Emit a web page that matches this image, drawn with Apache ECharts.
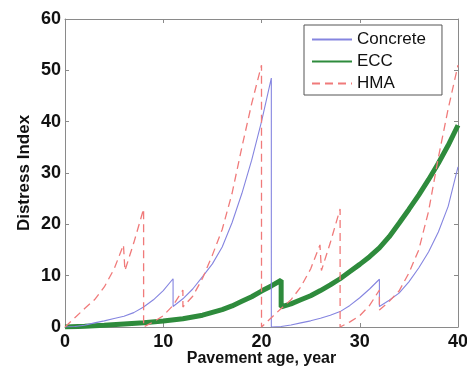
<!DOCTYPE html>
<html>
<head>
<meta charset="utf-8">
<script src="https://cdn.jsdelivr.net/npm/echarts@6/dist/echarts.min.js"></script>
<style>
html,body{margin:0;padding:0;background:#fff;}
#main{width:467px;height:369px;}
</style>
</head>
<body>
<div id="main"></div>
<script>
// Series values as [pavement age (year), distress index]
const concreteData = [[0,0],[1,0.1],[2,0.35],[3,0.8],[4,1.2],[5,1.65],[6,2.1],[7,2.8],[8,3.9],[9,5.3],[10,7.1],[11,9.4],[11,4.0],[12,5.5],[13,7.4],[14,9.8],[15,12.3],[16,15.6],[17,20.3],[18,26],[19,32.5],[20,40],[21,48.5],[21,0],[22,0.1],[23,0.4],[24,0.8],[25,1.2],[26,1.7],[27,2.3],[28,3.0],[29,4.2],[30,5.7],[31,7.4],[32,9.3],[32,4.0],[33,5.2],[34,6.6],[35,8.8],[36,11.5],[37,14.6],[38,18.5],[39,23.5],[40,31.2]];
const eccData = [[0,0],[2,0.15],[4,0.35],[6,0.6],[8,0.85],[10,1.15],[12,1.6],[14,2.3],[16,3.4],[17,4.1],[18,5.0],[19,5.9],[20,7.0],[21,8.0],[22,9.1],[22,3.9],[23,4.5],[24,5.3],[25,6.1],[26,7.1],[27,8.2],[28,9.4],[29,10.8],[30,12.2],[31,13.7],[32,15.4],[33,17.6],[34,20.2],[35,22.9],[36,25.7],[37,28.7],[38,31.9],[39,35.4],[40,39.3]];
const hmaData = [[0,0],[1,1.8],[2,3.6],[3,5.3],[4,7.8],[5,11.3],[5.95,16],[6.1,11],[7,16.4],[8,23],[8,0],[9,1],[10,2.2],[11,4.2],[12,7.2],[12,3.9],[13,6],[14,9.5],[15,14],[16,19],[17,26],[18,35],[19,43.5],[20,51],[20,0],[21,1.8],[22,3.6],[23,5.3],[24,7.8],[25,11.3],[25.95,16],[26.1,11],[27,16.4],[28,23],[28,0],[29,1],[30,2.2],[31,4.2],[32,7.2],[32,3.3],[33,5],[34,7],[35,10.5],[36,15],[37,22.5],[38,33],[39,42.5],[40,51]];
const seriesNames = ['Concrete','ECC','HMA'];
const xTicks = {min:0, max:40, interval:10};
const yTicks = {min:0, max:60, interval:10};

const FONT = '"Liberation Sans", Arial, sans-serif';
const axisGrey = '#8a8a8a';
const chart = echarts.init(document.getElementById('main'), null, {renderer:'canvas'});

const baseAxis = {
  axisLine:{show:true, onZero:false, lineStyle:{color:axisGrey, width:1}},
  axisTick:{show:true, inside:true, length:4, lineStyle:{color:axisGrey}},
  splitLine:{show:false}
};

chart.setOption({
  animation:false,
  backgroundColor:'#fff',
  grid:{left:65, right:9, top:19, bottom:42, containLabel:false, outerBoundsMode:'none'},
  legend:{
    show:true,
    data:seriesNames,
    orient:'vertical',
    left:304, top:25,
    itemWidth:40, itemHeight:14, itemGap:5,
    padding:[6,16,3,7],
    borderColor:'#555', borderWidth:1, backgroundColor:'#fff',
    itemStyle:{opacity:0},
    textStyle:{fontFamily:FONT, fontSize:17, color:'#111'}
  },
  xAxis:[
    Object.assign({}, baseAxis, {
      type:'value', min:xTicks.min, max:xTicks.max, interval:xTicks.interval,
      name:'Pavement age, year', nameLocation:'middle', nameGap:24, nameMoveOverlap:false,
      nameTextStyle:{fontFamily:FONT, fontSize:16, fontWeight:'bold', color:'#111'},
      axisLabel:{fontFamily:FONT, fontSize:18, fontWeight:'bold', color:'#111', margin:6}
    }),
    Object.assign({}, baseAxis, {
      type:'value', position:'top', min:xTicks.min, max:xTicks.max, interval:xTicks.interval,
      axisLabel:{show:false}
    })
  ],
  yAxis:[
    Object.assign({}, baseAxis, {
      type:'value', min:yTicks.min, max:yTicks.max, interval:yTicks.interval,
      name:'Distress Index', nameLocation:'middle', nameGap:32, nameRotate:90, nameMoveOverlap:false,
      nameTextStyle:{fontFamily:FONT, fontSize:17, fontWeight:'bold', color:'#111'},
      axisLabel:{fontFamily:FONT, fontSize:18, fontWeight:'bold', color:'#111', margin:4}
    }),
    Object.assign({}, baseAxis, {
      type:'value', position:'right', min:yTicks.min, max:yTicks.max, interval:yTicks.interval,
      axisLabel:{show:false}
    })
  ],
  series:[
    {name:'Concrete', type:'line', data:concreteData, symbol:'none', z:3,
     lineStyle:{color:'#8585e0', width:1.1}, itemStyle:{color:'#8585e0'}},
    {name:'ECC', type:'line', data:eccData, symbol:'none', z:2,
     lineStyle:{color:'#2e8b3c', width:5}, itemStyle:{color:'#2e8b3c'}},
    {name:'HMA', type:'line', data:hmaData, symbol:'none', z:4,
     lineStyle:{color:'#f07a7a', width:1.3, type:[8,5]}, itemStyle:{color:'#f07a7a'}}
  ]
});
</script>
</body>
</html>
